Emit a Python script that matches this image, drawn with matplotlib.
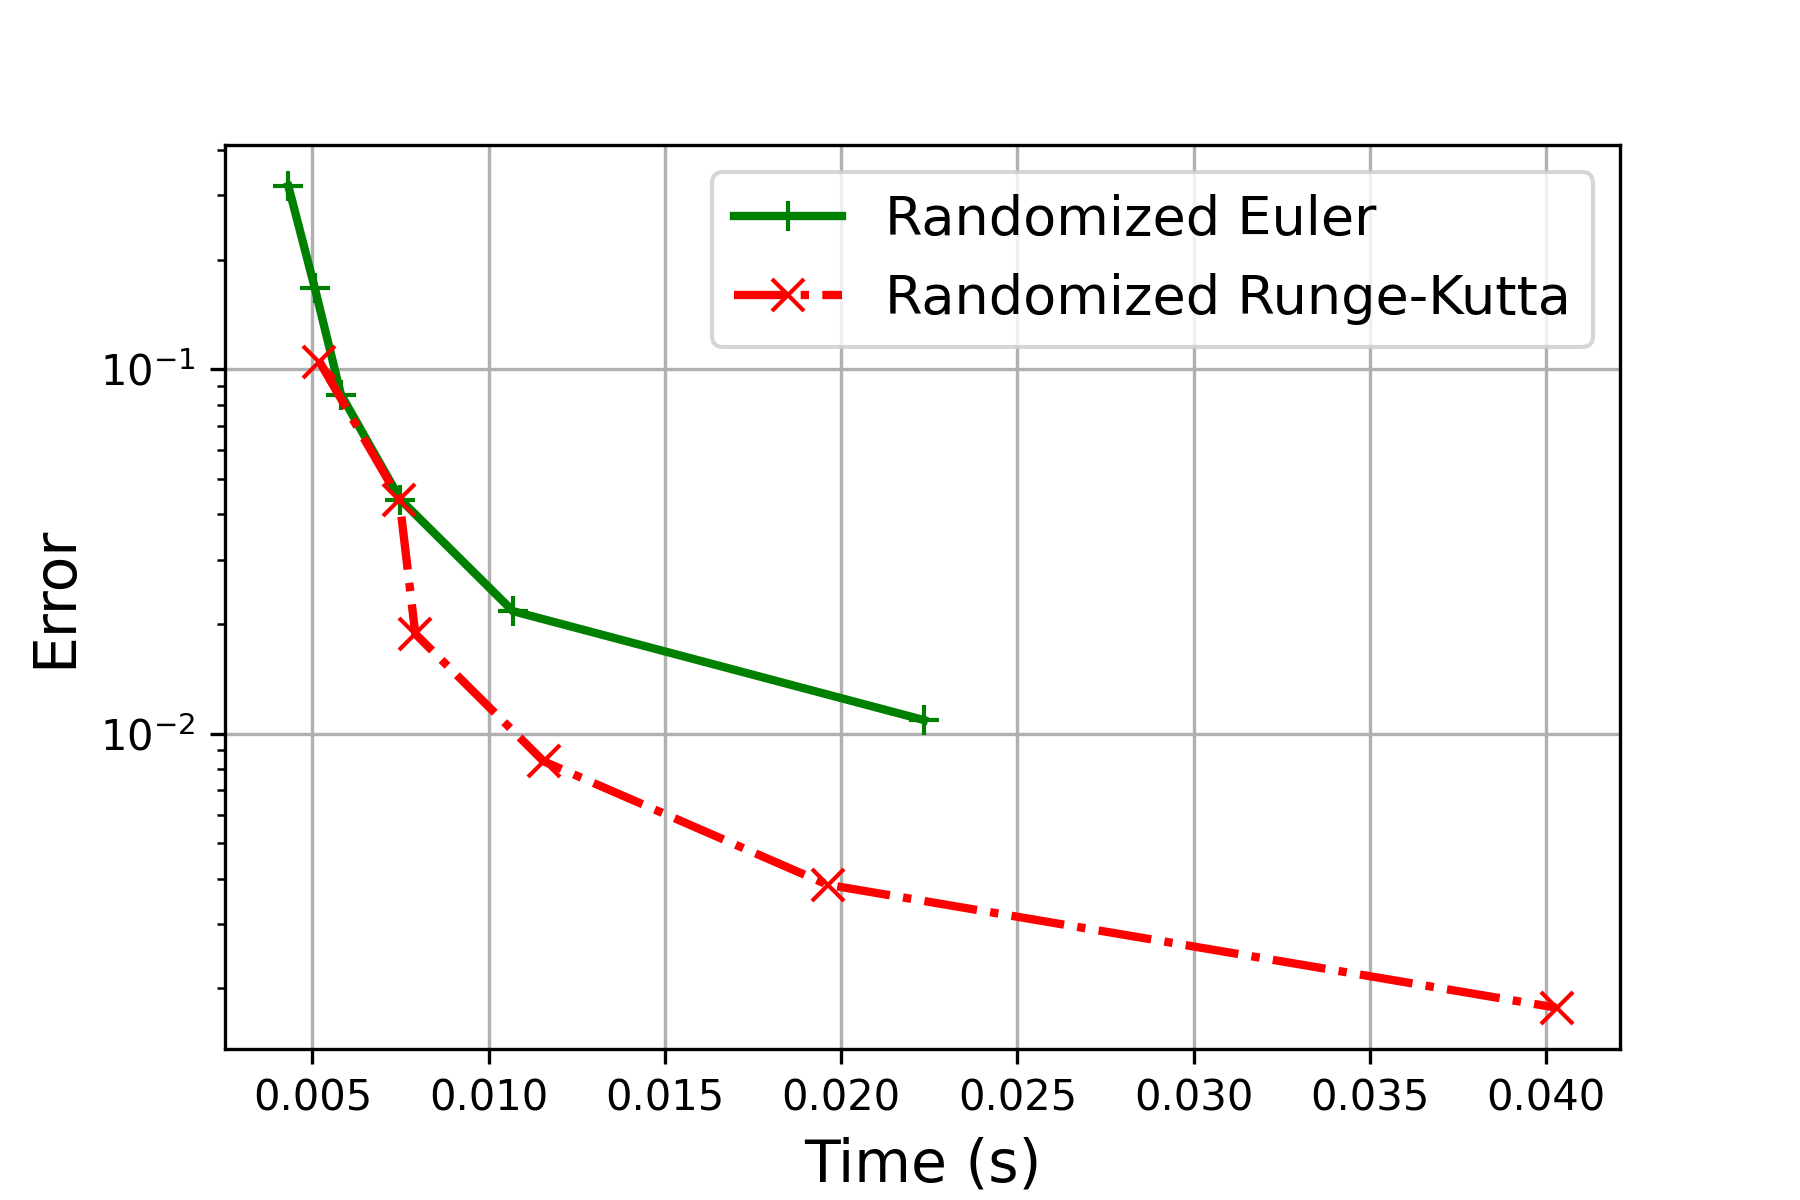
import matplotlib
matplotlib.use("Agg")
import matplotlib.pyplot as plt

# timings (s) and errors
euler_time = [0.00432, 0.00507, 0.00581, 0.00750, 0.01069, 0.02235]
euler_err = [0.318, 0.167, 0.0853, 0.0439, 0.0217, 0.0109]

rk_time = [0.00520, 0.00747, 0.00792, 0.01156, 0.01962, 0.04030]
rk_err = [0.105, 0.0439, 0.0188, 0.0084, 0.00385, 0.00177]

fig, ax = plt.subplots(figsize=(6, 4), dpi=300)
fig.subplots_adjust(left=0.125, right=0.9, top=0.879, bottom=0.126)

ax.plot(euler_time, euler_err, color='green', marker='+', linestyle='-',
        linewidth=2, markersize=7, label='Randomized Euler')
ax.plot(rk_time, rk_err, color='red', marker='x', linestyle='-.',
        linewidth=2, markersize=7.5, label='Randomized Runge-Kutta')

ax.set_yscale('log')
ax.set_xlabel('Time (s)', fontsize=14)
ax.set_ylabel('Error', fontsize=14)
ax.grid(True, which='major')
ax.legend(fontsize=13)

fig.savefig('out.png', dpi=300)
